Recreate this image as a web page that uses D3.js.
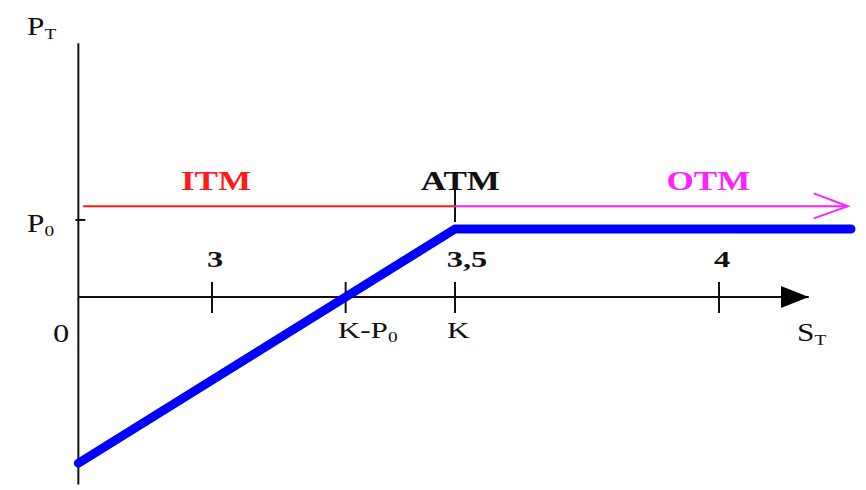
<!DOCTYPE html>
<html>
<head>
<meta charset="utf-8">
<script src="https://cdn.jsdelivr.net/npm/d3@7"></script>
<style>
  body { margin: 0; background: #fff; }
  text { font-family: "Liberation Serif", "Times New Roman", serif; }
</style>
</head>
<body>
<div id="chart"></div>
<script>
// payoff line (S_T, P_T)
const payoffS = [2.725, 3.5, 4.25];
const payoffP = [-0.55, 0.225, 0.225];

// key levels
const strike = 3.5;
const premium = 0.225;
const xStart = 2.725;
const xEnd = 4.17;
const yTop = 0.84;
const yBottom = -0.62;
const moneyLevel = 0.3;
const premiumTickLevel = 0.255;

// ticks on the S_T axis
const tickValues = [3, 3.275, 3.5, 4];
const tickTopLabels = ["3", "", "3,5", "4"];
const tickBottomLabels = [["", ""], ["K-P", "0"], ["K", ""], ["", ""]];

// zone labels
const zoneNames = ["ITM", "ATM", "OTM"];
const zoneColors = ["#ff1a1a", "#111111", "#ff22ff"];
const zoneCenters = [3.0, 3.51, 3.98];

const width = 866, height = 490;

const x = d3.scaleLinear().domain([3, 3.5, 4]).range([212, 455, 719]);
const y = d3.scaleLinear().domain([0, premium]).range([297, 229]);

const svg = d3.select("#chart").append("svg")
    .attr("width", width)
    .attr("height", height);

const defs = svg.append("defs");
defs.append("marker")
    .attr("id", "arrow")
    .attr("viewBox", "0 0 28 22")
    .attr("refX", 28).attr("refY", 11)
    .attr("markerWidth", 28).attr("markerHeight", 22)
    .attr("markerUnits", "userSpaceOnUse")
    .attr("orient", "auto")
    .append("path")
    .attr("d", "M0,0L28,11L0,22Z")
    .attr("fill", "#000");

// helper for stretched serif text
function label(txt, sub, px, py, opts) {
    const t = svg.append("text")
        .attr("transform", `translate(${px},${py}) scale(${opts.sx || 1.3},1)`)
        .attr("text-anchor", opts.anchor || "middle")
        .attr("font-size", opts.size || 24)
        .attr("font-weight", opts.weight || "normal")
        .attr("fill", opts.color || "#111");
    t.append("tspan").text(txt);
    if (sub) {
        t.append("tspan")
            .attr("font-size", (opts.size || 24) * 0.62)
            .attr("dy", 4)
            .text(sub);
    }
    return t;
}

// axes
svg.append("line")
    .attr("x1", x(xStart)).attr("x2", x(xStart))
    .attr("y1", y(yTop)).attr("y2", y(yBottom))
    .attr("stroke", "#111").attr("stroke-width", 2);

svg.append("line")
    .attr("x1", x(xStart)).attr("x2", x(xEnd))
    .attr("y1", y(0)).attr("y2", y(0))
    .attr("stroke", "#111").attr("stroke-width", 2)
    .attr("marker-end", "url(#arrow)");

// ticks on S_T axis
svg.selectAll(".xtick")
    .data(tickValues)
    .enter().append("line")
    .attr("class", "xtick")
    .attr("x1", d => x(d)).attr("x2", d => x(d))
    .attr("y1", y(0) - 15).attr("y2", y(0) + 16)
    .attr("stroke", "#111").attr("stroke-width", 2);

tickValues.forEach((v, i) => {
    if (tickTopLabels[i]) {
        label(tickTopLabels[i], null, x(v) + (i === 2 ? 12 : 3), y(0) - 30,
            { weight: "bold", size: 24, sx: 1.35 });
    }
    const b = tickBottomLabels[i];
    if (b[0]) {
        label(b[0], b[1], x(v) - 8, y(0) + 41, { anchor: "start", size: 24, sx: 1.3 });
    }
});

// P0 tick on the P_T axis
svg.append("line")
    .attr("x1", x(xStart) - 3).attr("x2", x(xStart) + 7)
    .attr("y1", y(premiumTickLevel)).attr("y2", y(premiumTickLevel))
    .attr("stroke", "#111").attr("stroke-width", 2);

// ATM marker
svg.append("line")
    .attr("x1", x(strike)).attr("x2", x(strike))
    .attr("y1", y(moneyLevel) - 18).attr("y2", y(premiumTickLevel) + 2)
    .attr("stroke", "#111").attr("stroke-width", 2);

// ITM / OTM lines
svg.append("line")
    .attr("x1", x(2.735)).attr("x2", x(strike))
    .attr("y1", y(moneyLevel)).attr("y2", y(moneyLevel))
    .attr("stroke", zoneColors[0]).attr("stroke-width", 2);

const otmEnd = 4.244;
svg.append("path")
    .attr("d", `M${x(strike)},${y(moneyLevel)}H${x(otmEnd)}` +
        `M${x(otmEnd) - 34},${y(moneyLevel) - 13}L${x(otmEnd)},${y(moneyLevel)}L${x(otmEnd) - 34},${y(moneyLevel) + 12}`)
    .attr("fill", "none")
    .attr("stroke", zoneColors[2]).attr("stroke-width", 2);

// zone labels
zoneNames.forEach((n, i) => {
    label(n, null, x(zoneCenters[i]) + (i === 0 ? 4 : 0), y(moneyLevel) - 16,
        { weight: "bold", size: 27, sx: 1.3, color: zoneColors[i] });
});

// payoff line
const line = d3.line().x(d => x(d[0])).y(d => y(d[1]));
svg.append("path")
    .datum(d3.zip(payoffS, payoffP))
    .attr("d", line)
    .attr("fill", "none")
    .attr("stroke", "#0000ff")
    .attr("stroke-width", 9)
    .attr("stroke-linejoin", "round")
    .attr("stroke-linecap", "round");

// axis titles
label("P", "T", 27, 35, { anchor: "start", size: 25, sx: 1.25 });
label("P", "0", 27, 232, { anchor: "start", size: 25, sx: 1.25 });
label("0", null, 53, 342, { anchor: "start", size: 25, sx: 1.3 });
label("S", "T", 797, 341, { anchor: "start", size: 25, sx: 1.25 });
</script>
</body>
</html>
